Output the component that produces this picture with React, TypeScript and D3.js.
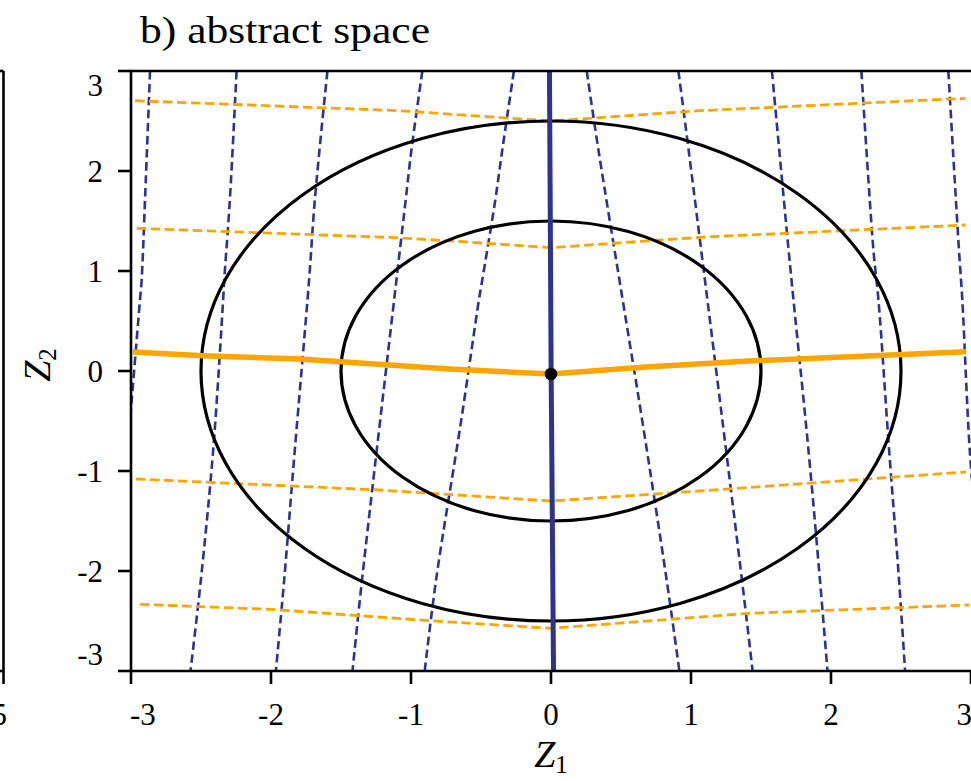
import React from "react";
import * as d3 from "d3";

const W = 971;
const H = 781;

const xTicks = [-3, -2, -1, 0, 1, 2, 3];
const yTicks = [-3, -2, -1, 0, 1, 2, 3];
const xTickLabels = ["-3", "-2", "-1", "0", "1", "2", "3"];
const yTickLabels = ["-3", "-2", "-1", "0", "1", "2", "3"];

const titleText = "b) abstract space";

// contour radii (black circles in abstract space)
const contourRadii = [1.5, 2.5];

// centre point
const centrePoint: [number, number] = [0, -0.03];

// vertical family (dark blue dashed), points as [z1, z2]
const blueLine1: [number, number][] = [[-2.864, 3.0], [-2.9, 1.71], [-2.924, 0.91], [-2.936, 0.71], [-2.995, -0.29], [-3.05, -1.2]];
const blueLine2: [number, number][] = [[-2.246, 3.0], [-2.294, 1.71], [-2.334, 0.91], [-2.342, 0.71], [-2.413, -0.79], [-2.501, -2.09], [-2.575, -3.0]];
const blueLine3: [number, number][] = [[-1.597, 3.0], [-1.687, 1.71], [-1.728, 0.91], [-1.83, -0.79], [-1.906, -2.09], [-1.965, -3.0]];
const blueLine4: [number, number][] = [[-0.919, 3.0], [-0.997, 2.21], [-1.038, 1.71], [-1.104, 0.91], [-1.35, -2.09], [-1.418, -3.0]];
const blueLine5: [number, number][] = [[-0.265, 3.0], [-0.348, 2.21], [-0.398, 1.71], [-0.491, 0.91], [-0.515, 0.71], [-0.641, -0.49], [-0.821, -2.09], [-0.902, -3.0]];
const blueLine6: [number, number][] = [[0.255, 3.0], [0.339, 2.21], [0.512, 0.71], [0.651, -0.49], [0.826, -2.09], [0.917, -3.0]];
const blueLine7: [number, number][] = [[0.91, 3.0], [0.983, 2.21], [1.364, -2.09], [1.44, -3.0]];
const blueLine8: [number, number][] = [[1.578, 3.0], [1.697, 1.21], [1.732, 0.71], [1.839, -0.79], [1.921, -2.09], [1.975, -3.0]];
const blueLine9: [number, number][] = [[2.217, 3.0], [2.303, 1.21], [2.339, 0.71], [2.415, -0.79], [2.486, -2.09], [2.529, -3.0]];
const blueLine10: [number, number][] = [[2.838, 3.0], [2.914, 1.21], [2.938, 0.71], [2.991, -0.79], [3.04, -1.6]];
const blueDashed = [blueLine1, blueLine2, blueLine3, blueLine4, blueLine5, blueLine6, blueLine7, blueLine8, blueLine9, blueLine10];

// central vertical (thick blue)
const blueMain: [number, number][] = [[-0.011, 3.0], [0.001, 0.0], [0.018, -3.0]];

// horizontal family (orange dashed)
const orangeLine1: [number, number][] = [[-2.971, 2.703], [-1.081, 2.603], [0, 2.5], [1.059, 2.603], [2.962, 2.727]];
const orangeLine2: [number, number][] = [[-2.959, 1.427], [-1.104, 1.333], [-0.629, 1.293], [0, 1.233], [1.059, 1.337], [2.962, 1.46]];
const orangeLine3: [number, number][] = [[-2.964, -1.08], [-1.225, -1.19], [0, -1.3], [1.059, -1.2], [2.964, -1.01]];
const orangeLine4: [number, number][] = [[-2.936, -2.333], [-2.008, -2.383], [-0.867, -2.497], [0, -2.573], [1.416, -2.423], [2.986, -2.34]];
const orangeDashed = [orangeLine1, orangeLine2, orangeLine3, orangeLine4];

// central horizontal (thick orange)
const orangeMain: [number, number][] = [[-2.986, 0.19], [-2.486, 0.153], [-1.794, 0.12], [-0.724, 0.02], [0, -0.03], [0.703, 0.043], [1.416, 0.1], [2.964, 0.193]];

const BLUE = "#2c3391";
const ORANGE = "#ffa500";
const FONT = "'Liberation Serif', 'DejaVu Serif', serif";

export default function App() {
  const left = 131, right = 971, top = 71, bottom = 671;
  const x = d3.scaleLinear().domain([-3, 3]).range([left, right]);
  const y = d3.scaleLinear().domain([-3, 3]).range([bottom, top]);

  const smooth = d3
    .line<[number, number]>()
    .x((d) => x(d[0]))
    .y((d) => y(d[1]))
    .curve(d3.curveCatmullRom.alpha(0.5));
  const straight = d3
    .line<[number, number]>()
    .x((d) => x(d[0]))
    .y((d) => y(d[1]));

  const tickLen = 13;
  const sw = 2.6;

  return (
    <svg
      width={W}
      height={H}
      viewBox={`0 0 ${W} ${H}`}
      style={{ position: "absolute", left: 0, top: 0, display: "block", background: "#fff" }}
    >
      <defs>
        <clipPath id="plotClip">
          <rect x={left} y={top} width={right - left} height={bottom - top} />
        </clipPath>
      </defs>
      <rect x={0} y={0} width={W} height={H} fill="#fff" />

      {/* neighbouring panel remnants */}
      <g stroke="#000" strokeWidth={sw} fill="none">
        <line x1={-2} y1={top} x2={3.5} y2={top} />
        <line x1={3.5} y1={top} x2={3.5} y2={bottom} />
        <line x1={-2} y1={bottom} x2={3.5} y2={bottom} />
        <line x1={3.5} y1={bottom} x2={3.5} y2={bottom + tickLen} />
      </g>
      <text x={7} y={725} fontFamily={FONT} fontSize={31} textAnchor="end">5</text>

      {/* title */}
      <text x={140} y={43} fontFamily={FONT} fontSize={37} textLength={290} lengthAdjust="spacingAndGlyphs">
        {titleText}
      </text>

      <g clipPath="url(#plotClip)">
        {blueDashed.map((l, i) => (
          <path key={"b" + i} d={smooth(l) || ""} fill="none" stroke={BLUE} strokeWidth={2.6} strokeDasharray="8.5 4.5" />
        ))}
        {orangeDashed.map((l, i) => (
          <path key={"o" + i} d={straight(l) || ""} fill="none" stroke={ORANGE} strokeWidth={2.8} strokeDasharray="9.5 4.5" />
        ))}
        {contourRadii.map((r, i) => (
          <ellipse
            key={"c" + i}
            cx={x(0)}
            cy={y(0)}
            rx={x(r) - x(0)}
            ry={y(0) - y(r)}
            fill="none"
            stroke="#000"
            strokeWidth={3.2}
          />
        ))}
        <path d={straight(orangeMain) || ""} fill="none" stroke={ORANGE} strokeWidth={5.5} strokeLinejoin="round" />
        <path d={straight(blueMain) || ""} fill="none" stroke={BLUE} strokeWidth={5} />
        <circle cx={x(centrePoint[0])} cy={y(centrePoint[1])} r={6.3} fill="#000" />
      </g>

      {/* spines */}
      <g stroke="#000" strokeWidth={sw} fill="none">
        <line x1={left} y1={top} x2={left} y2={bottom} />
        <line x1={left - 1} y1={top} x2={right + 2} y2={top} />
        <line x1={left - 1} y1={bottom} x2={right + 2} y2={bottom} />
      </g>

      {/* x axis ticks */}
      {xTicks.map((t, i) => {
        const anchor = i === 0 ? "start" : i === xTicks.length - 1 ? "end" : "middle";
        const tx = i === 0 ? x(t) - 1 : i === xTicks.length - 1 ? x(t) + 1 : x(t);
        return (
          <g key={"xt" + i}>
            <line x1={x(t)} y1={bottom} x2={x(t)} y2={bottom + tickLen} stroke="#000" strokeWidth={sw} />
            <text x={tx} y={725} fontFamily={FONT} fontSize={31} textAnchor={anchor}>
              {xTickLabels[i]}
            </text>
          </g>
        );
      })}

      {/* y axis ticks */}
      {yTicks.map((t, i) => {
        const by = i === 0 ? y(t) - 6 : i === yTicks.length - 1 ? y(t) + 25 : y(t) + 10.5;
        return (
          <g key={"yt" + i}>
            <line x1={left - tickLen} y1={y(t)} x2={left} y2={y(t)} stroke="#000" strokeWidth={sw} />
            <text x={103} y={by} fontFamily={FONT} fontSize={31} textAnchor="end">
              {yTickLabels[i]}
            </text>
          </g>
        );
      })}

      {/* axis labels */}
      <text x={551} y={767} fontFamily={FONT} fontSize={38} textAnchor="middle">
        <tspan fontStyle="italic">Z</tspan>
        <tspan fontSize={25} dy={6}>1</tspan>
      </text>
      <text
        transform="translate(50,365) rotate(-90)"
        fontFamily={FONT}
        fontSize={38}
        textAnchor="middle"
      >
        <tspan fontStyle="italic">Z</tspan>
        <tspan fontSize={25} dy={6}>2</tspan>
      </text>
    </svg>
  );
}
